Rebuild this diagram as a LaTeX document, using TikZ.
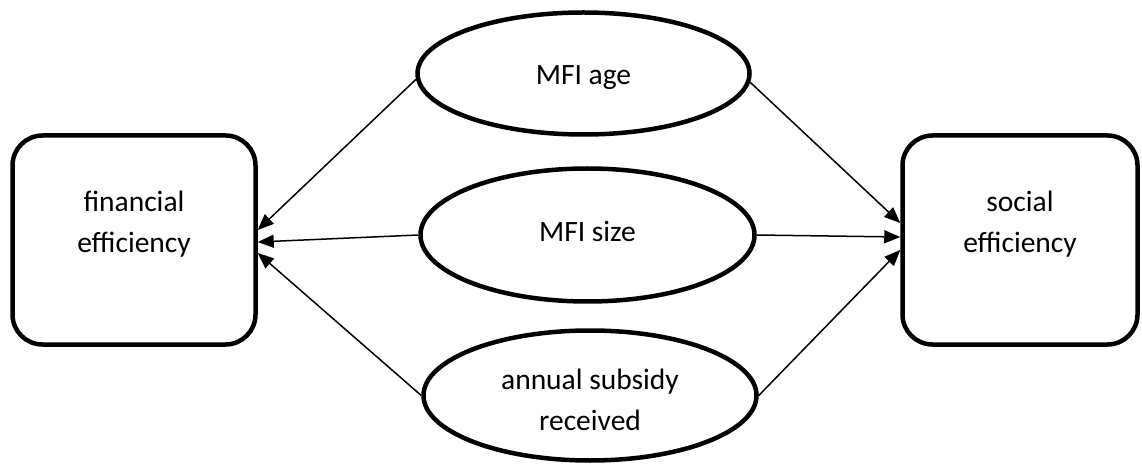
\documentclass[tikz,border=0pt]{standalone}
\usepackage{fontspec}
\setmainfont{Carlito}
\usetikzlibrary{shapes.geometric,arrows.meta}
\begin{document}
\begin{tikzpicture}[x=1pt,y=1pt,
  box/.style={draw,line width=4.5pt,rounded corners=30pt,minimum width=243pt,minimum height=209pt,inner sep=0pt},
  oval/.style={draw,ellipse,line width=4.5pt,inner sep=0pt},
  txt/.style={font=\fontsize{29.5}{41}\selectfont,align=center,inner sep=0pt},
  arr/.style={line width=1.5pt,-{Triangle[length=16pt,width=13pt]}}]
\useasboundingbox (0,0) rectangle (1142,466);
\node[box] (fin) at (134,226) {};
\node[box,minimum width=235pt] (soc) at (1020,226) {};
\node[oval,minimum width=332pt,minimum height=122pt] (age) at (583.5,392.5) {};
\node[oval,minimum width=334pt,minimum height=133pt] (size) at (587.5,231) {};
\node[oval,minimum width=333pt,minimum height=130pt] (sub) at (590,70.5) {};
\node[txt,anchor=base] (fint) at (134,213) {financial\\efficiency};
\node[txt,anchor=base] (soct) at (1020,213) {social\\efficiency};
\node[txt,anchor=base] (aget) at (583.5,381) {MFI age};
\node[txt,anchor=base] (sizet) at (587.5,224) {MFI size};
\node[txt,anchor=base] (subt) at (590,36) {annual subsidy\\received};
\draw[arr] (age.182) -- ([yshift=10pt]fin.east);
\draw[arr] (size.west) -- ([yshift=-2pt]fin.east);
\draw[arr] (sub.west) -- ([yshift=-13pt]fin.east);
\draw[arr] (age.357) -- ([yshift=17pt]soc.west);
\draw[arr] (size.east) -- ([yshift=3pt]soc.west);
\draw[arr] (sub.east) -- ([yshift=-10pt]soc.west);
\end{tikzpicture}
\end{document}
